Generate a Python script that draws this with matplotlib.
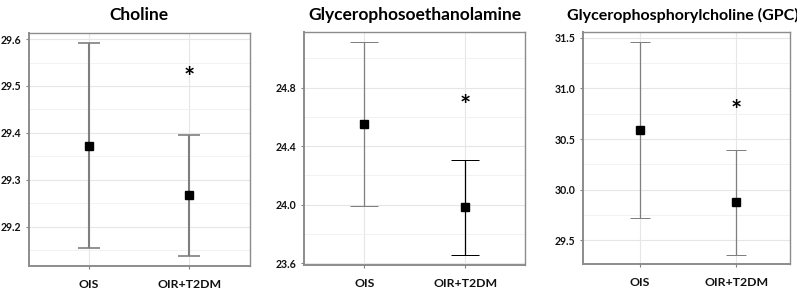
import numpy as np
import matplotlib
matplotlib.use("Agg")
import matplotlib.pyplot as plt
from matplotlib.ticker import MultipleLocator, FormatStrFormatter

plt.rcParams['font.family'] = ['Lato', 'DejaVu Sans']

#--- DATA ---------------------------------------------------------------------+

groups = ['OIS', 'OIR+T2DM']

titles = ['Choline', 'Glycerophosoethanolamine', 'Glycerophosphorylcholine (GPC)']

means = [[29.373, 29.267],
         [24.550, 23.983],
         [30.589, 29.878]]
upper = [[29.592, 29.396],
         [25.110, 24.308],
         [31.455, 30.389]]
lower = [[29.154, 29.138],
         [23.990, 23.655],
         [29.717, 29.352]]
star_y = [29.518, 24.675, 30.775]

#--- LAYOUT -------------------------------------------------------------------+

boxes = [[0.036, 0.0859, 0.2777, 0.8007],
         [0.3818, 0.0893, 0.2769, 0.7997],
         [0.7319, 0.0918, 0.2593, 0.7970]]
ylims = [(29.116, 29.613), (23.588, 25.178), (29.263, 31.553)]
xlims = [(0.406, 2.60), (0.406, 2.59), (0.41, 2.56)]
major = [0.1, 0.4, 0.5]
minor = [0.05, 0.2, 0.25]
bar_lw = [1.5, 0.9, 0.9]
caps = [7.6, 10, 7]
bar_col = [['#7f7f7f', '#7f7f7f'], ['#7f7f7f', '#000000'], ['#7f7f7f', '#7f7f7f']]
title_size = [12.5, 12.5, 11.5]
title_x = [0.5, 0.5, 0.48]

fig = plt.figure(figsize=(7.97, 2.91), dpi=100)

for i in range(3):
    ax = fig.add_axes(boxes[i])
    x = np.arange(1, len(groups) + 1)
    for j in range(len(groups)):
        ax.errorbar(x[j], means[i][j],
                    yerr=[[means[i][j] - lower[i][j]], [upper[i][j] - means[i][j]]],
                    fmt='none', ecolor=bar_col[i][j], elinewidth=bar_lw[i],
                    capsize=caps[i], capthick=bar_lw[i] * 0.8, zorder=3)
    ax.plot(x, means[i], 's', color='black', markersize=5.5, zorder=4)
    ax.text(2, star_y[i], '*', ha='center', va='center', fontsize=19,
            fontweight='bold', color='black', zorder=5)

    ax.set_xlim(*xlims[i])
    ax.set_ylim(*ylims[i])
    ax.set_xticks(x)
    ax.set_xticklabels(groups)
    ax.yaxis.set_major_locator(MultipleLocator(major[i]))
    ax.yaxis.set_minor_locator(MultipleLocator(minor[i]))
    ax.yaxis.set_major_formatter(FormatStrFormatter('%.1f'))
    ax.grid(True, which='major', color='#e6e6e6', lw=0.8, zorder=0)
    ax.grid(True, which='minor', axis='y', color='#f0f0f0', lw=0.6, zorder=0)
    ax.set_axisbelow(True)
    ax.tick_params(axis='both', which='major', length=2.5, width=0.8,
                   color='#808080', labelsize=7.6, pad=3, labelcolor='#111111')
    ax.tick_params(axis='x', which='major', pad=7, labelsize=8.8)
    ax.tick_params(axis='y', which='minor', length=0)
    for lab in ax.get_xticklabels() + ax.get_yticklabels():
        lab.set_fontweight('bold')
    for s in ax.spines.values():
        s.set_color('#8c8c8c')
        s.set_linewidth(1.0)
    ax.spines['bottom'].set_linewidth(1.4)
    ax.spines['left'].set_linewidth(1.4)
    ax.set_title(titles[i], fontsize=title_size[i], fontweight='bold', pad=9,
                 x=title_x[i])

fig.savefig('out.png', dpi=100)
